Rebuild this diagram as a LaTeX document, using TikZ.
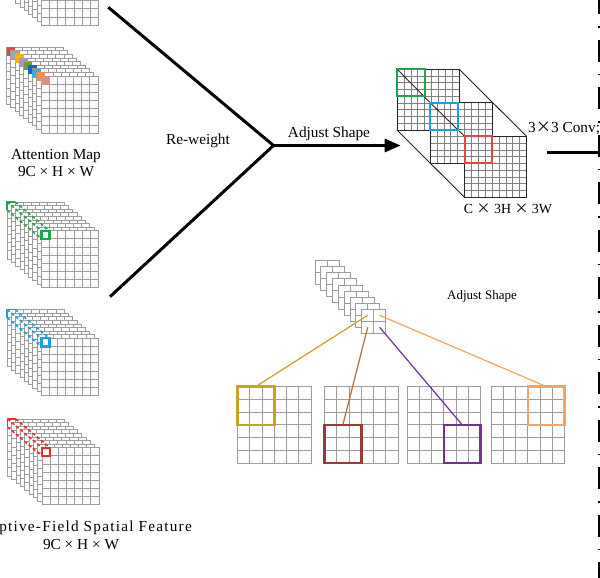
\documentclass[tikz,border=0pt]{standalone}
\usepackage{fontspec}
\setmainfont{Liberation Serif}
\newfontfamily\cjk{Noto Sans CJK SC}
\usetikzlibrary{arrows.meta}

\definecolor{gridgray}{HTML}{9C9C9C}
\definecolor{cubegray}{HTML}{808080}
\definecolor{at1}{HTML}{E8463C}
\definecolor{at2}{HTML}{A6A6A6}
\definecolor{at3}{HTML}{F2B705}
\definecolor{at4}{HTML}{A594C9}
\definecolor{at5}{HTML}{6E9E3E}
\definecolor{at6}{HTML}{1565C0}
\definecolor{at7}{HTML}{3FA9D4}
\definecolor{at8}{HTML}{F0924A}
\definecolor{at9}{HTML}{D4948C}
\definecolor{hgreen}{HTML}{1FA64A}
\definecolor{hblue}{HTML}{1BA1E2}
\definecolor{hred}{HTML}{E8302A}
\definecolor{cred}{HTML}{E8473F}
\definecolor{gold}{HTML}{C9A21E}
\definecolor{brownbox}{HTML}{9B3A35}
\definecolor{brownln}{HTML}{B0703C}
\definecolor{purp}{HTML}{7030A0}
\definecolor{orng}{HTML}{F4A460}

% grid: x, y, w, h, ncols, nrows, inner style, outline style
\newcommand{\mygrid}[8]{%
  \fill[white] (#1,#2) rectangle ++(#3,#4);
  \foreach \ii in {0,...,#5} {\draw[#7] ({#1+\ii*(#3)/(#5)},{#2}) -- ++(0,#4);}
  \foreach \jj in {0,...,#6} {\draw[#7] ({#1},{#2+\jj*(#4)/(#6)}) -- ++(#3,0);}
  \draw[#8] (#1,#2) rectangle ++(#3,#4);
}
% stack of 9 layers, back layer top-left at (#1,#2)
\newcommand{\layerstack}[2]{%
  \foreach \L in {0,...,8} {\mygrid{#1+\L*4.3}{#2+\L*3.6}{57}{57}{7}{7}{stk}{stk}}%
}
% receptive-field highlight from back cell to front cell
\newcommand{\rfhl}[3]{%
  \draw[#3, line width=1.8pt, line join=round] (#1,{#2+8.14}) -- (#1,#2) -- ({#1+8.14},#2);
  \draw[#3, rfdash] ({#1+8.14},#2) -- ({#1+34.4+8.14},{#2+28.8});
  \draw[#3, rfdash] (#1,#2) -- ({#1+34.4},{#2+28.8});
  \draw[#3, rfdash] (#1,{#2+8.14}) -- ({#1+34.4},{#2+28.8+8.14});
  \draw[#3, line width=2.2pt] ({#1+34.4},{#2+28.8}) rectangle ++(8.14,8.14);
}

\tikzset{
  stk/.style={draw=gridgray, line width=0.7pt},
  cubein/.style={draw=cubegray, line width=0.5pt},
  cubeout/.style={draw=black!85, line width=0.9pt},
  bigin/.style={draw=gridgray, line width=0.9pt},
  smallin/.style={draw=gridgray, line width=0.9pt},
  rfdash/.style={line width=1.5pt, dash pattern=on 3.5pt off 2pt},
  thickln/.style={line width=3pt},
  lbl/.style={inner sep=0pt, font=\fontsize{15.3pt}{18pt}\selectfont},
  lblsmall/.style={inner sep=0pt, font=\fontsize{13pt}{16pt}\selectfont},
  hibox/.style={line width=2pt},
  selbox/.style={line width=2.5pt, inner sep=0pt, outer sep=0pt, minimum width=36.75pt, minimum height=38.25pt, anchor=north west},
  conn/.style={line width=1.2pt},
  mydd/.style={line width=2.6pt, dash pattern=on 22pt off 12pt on 1.5pt off 12pt, dash phase=7.7pt},
}

\begin{document}
\begin{tikzpicture}[x=1pt,y=-1pt]
\useasboundingbox (0,0) rectangle (600,578);
\clip (0,0) rectangle (600,578);
\fill[white] (0,0) rectangle (600,578);

% ---------- left stacks ----------
\layerstack{7}{-60.8}
\foreach \L/\c in {0/at1,1/at2,2/at3,3/at4,4/at5,5/at6,6/at7,7/at8,8/at9} {%
  \mygrid{6.5+\L*4.3}{47.2+\L*3.6}{57}{57}{7}{7}{stk}{stk}
  \fill[\c] (6.5+\L*4.3,47.2+\L*3.6) rectangle ++(8.6,8.6);
}
\layerstack{7}{201.9}
\rfhl{7}{201.9}{hgreen}
\layerstack{7}{309.5}
\rfhl{7}{309.5}{hblue}
\layerstack{7.5}{418.9}
\rfhl{7.5}{418.9}{hred}

\node[lbl, anchor=base] (attlbl) at (56,159.3) {Attention Map};
\node[lbl, anchor=base] (attdim) at (56,176.7) {9C × H × W};
\node[lbl, anchor=base east] (rflbl) at (192,531) {\addfontfeature{LetterSpace=8}Receptive-Field Spatial Feature};
\node[lbl, anchor=base] (rfdim) at (81,549) {9C × H × W};

% ---------- re-weight junction ----------
\coordinate (rwtop) at (108.3,7.3);
\coordinate (rwbot) at (110,296.7);
\coordinate (junc) at (273.5,145.5);
\coordinate (cubein) at (400.7,145.5);
\draw[thickln, line join=miter] (rwtop) -- (junc) -- (rwbot);
\draw[thickln, -{Triangle[length=16pt,width=13pt]}] (junc) -- (cubein);
\node[lbl, anchor=base] (rwlbl) at (198,144.3) {Re-weight};
\node[lbl, anchor=base] (adjlbl) at (329,137.3) {Adjust Shape};

% ---------- cube ----------
\mygrid{397}{69}{62}{61}{9}{9}{cubein}{cubeout}
\draw[cubeout] (397,69) -- (430,102.5);
\draw[hgreen, hibox] (397,69) rectangle ++(27.6,27.1);
\mygrid{430}{102.5}{62}{61}{9}{9}{cubein}{cubeout}
\draw[cubeout] (430,102.5) -- (464.5,136.3);
\draw[hblue, hibox] (430,102.5) rectangle ++(27.6,27.1);
\mygrid{464.5}{136.3}{62}{61}{9}{9}{cubein}{cubeout}
\draw[cred, hibox] (464.5,136.3) rectangle ++(27.6,27.1);
\draw[cubeout] (459,69) -- (526.5,136.3);
\draw[cubeout] (397,130) -- (464.5,197.3);
\node[font=\fontsize{13.9pt}{16pt}\selectfont, inner sep=0pt, anchor=base] (cubedim) at (508,213.3) {C {\cjk ×} 3H {\cjk ×} 3W};

% ---------- conv arrow ----------
\coordinate (convstart) at (547,152);
\coordinate (convend) at (598,152);
\draw[thickln] (convstart) -- (convend);
\node[lbl, anchor=base west] (convlbl) at (528,132.3) {3{\cjk ×}3 Conv;};
\coordinate (ddtop) at (599,0);
\coordinate (ddbot) at (599,578);
\draw[mydd] (ddtop) -- (ddbot);

% ---------- small 2x2 stack ----------
\foreach \L in {0,...,8} {\mygrid{315+\L*5.84}{260.7+\L*6.08}{24}{24}{2}{2}{smallin}{smallin}}
\coordinate (ctl) at (367.7,315.3);
\coordinate (ctr) at (379.7,315.3);
\coordinate (cbl) at (367.7,327.3);
\coordinate (cbr) at (379.7,327.3);
\node[lblsmall, anchor=base] (adj2) at (482,299) {Adjust Shape};

% ---------- four output grids ----------
\mygrid{237.5}{386.5}{73.5}{76.5}{6}{6}{bigin}{bigin}
\mygrid{324.5}{386.5}{73.5}{76.5}{6}{6}{bigin}{bigin}
\mygrid{407}{386.5}{73.5}{76.5}{6}{6}{bigin}{bigin}
\mygrid{491}{386.5}{73.5}{76.5}{6}{6}{bigin}{bigin}
\node[selbox, draw=gold] (goldbox) at (237.5,386.5) {};
\node[selbox, draw=brownbox] (brownbox) at (324.5,424.75) {};
\node[selbox, draw=purp] (purpbox) at (443.75,424.75) {};
\node[selbox, draw=orng] (orngbox) at (527.75,386.5) {};

\draw[conn, gold] (ctl) -- (goldbox.north);
\draw[conn, brownln] (cbl) -- (brownbox.north);
\draw[conn, purp] (cbr) -- (purpbox.north);
\draw[conn, orng] (ctr) -- (orngbox.north);
\end{tikzpicture}
\end{document}
